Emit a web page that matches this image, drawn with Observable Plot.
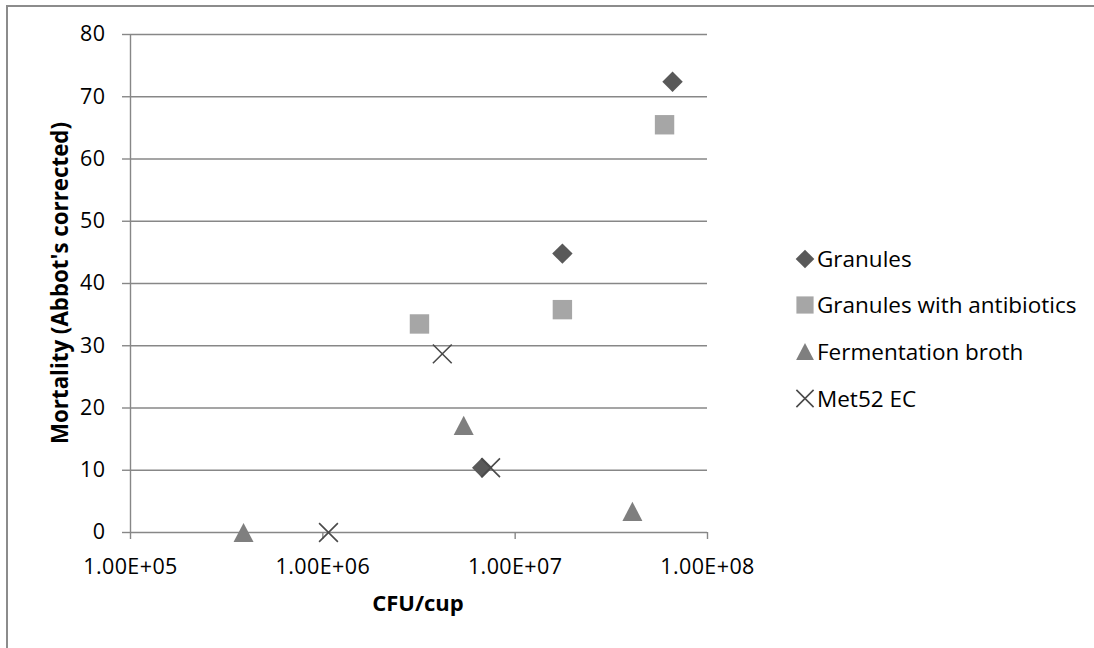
<!DOCTYPE html>
<html>
<head>
<meta charset="utf-8">
<script src="https://cdn.jsdelivr.net/npm/d3@7"></script>
<script src="https://cdn.jsdelivr.net/npm/@observablehq/plot@0.6"></script>
<style>
  body { margin: 0; background: #fff; }
  #wrap { position: relative; width: 1094px; height: 648px; overflow: hidden; background: #fff; }
  #chart { position: absolute; left: 0; top: 0; }
  #frame { position: absolute; left: 6px; top: 5px; width: 1200px; height: 800px;
           border-top: 2px solid #8c8c8c; border-left: 2px solid #8c8c8c; pointer-events: none; }
</style>
</head>
<body>
<div id="wrap"><div id="chart"></div><div id="frame"></div></div>
<script>
// ---- data ----
const seriesNames = ["Granules", "Granules with antibiotics", "Fermentation broth", "Met52 EC"];
const granulesX = [6.74e6, 1.76e7, 6.58e7];
const granulesY = [10.4, 44.8, 72.4];
const antibioticsX = [3.18e6, 1.76e7, 5.98e7];
const antibioticsY = [33.5, 35.8, 65.5];
const brothX = [3.87e5, 5.4e6, 4.07e7];
const brothY = [0, 17.2, 3.4];
const met52X = [1.07e6, 4.18e6, 7.45e6];
const met52Y = [0, 28.7, 10.4];
const xTicks = [1e5, 1e6, 1e7, 1e8];
const xTickLabels = ["1.00E+05", "1.00E+06", "1.00E+07", "1.00E+08"];
const yTicks = [0, 10, 20, 30, 40, 50, 60, 70, 80];
const xTitle = "CFU/cup";
const yTitle = "Mortality (Abbot's corrected)";

// ---- custom symbols: r = half extent ----
const rOf = size => Math.sqrt(size / Math.PI);
const diamondSym = { draw(c, size) { const r = rOf(size); c.moveTo(0, -r); c.lineTo(r, 0); c.lineTo(0, r); c.lineTo(-r, 0); c.closePath(); } };
const squareSym = { draw(c, size) { const r = rOf(size); c.moveTo(-r, -r); c.lineTo(r, -r); c.lineTo(r, r); c.lineTo(-r, r); c.closePath(); } };
const triangleSym = { draw(c, size) { const r = rOf(size); const h = 0.96 * r; c.moveTo(0, -h); c.lineTo(r, h); c.lineTo(-r, h); c.closePath(); } };
const timesSym = { draw(c, size) { const r = rOf(size); c.moveTo(-r, -r); c.lineTo(r, r); c.moveTo(-r, r); c.lineTo(r, -r); } };

const colDiamond = "#595959", colSquare = "#a6a6a6", colTriangle = "#7f7f7f", colTimes = "#4a4a4a";
const gridCol = "#878787";
const FONT = "'Open Sans', sans-serif";
const TICK_FS = 21.5;

const toRows = (xs, ys) => xs.map((x, i) => ({ x, y: ys[i] }));

const plot = Plot.plot({
  width: 1094,
  height: 648,
  marginLeft: 130,
  marginRight: 387,
  marginTop: 34,
  marginBottom: 116,
  style: { fontFamily: FONT, fontSize: TICK_FS + "px", color: "#000", background: "transparent", overflow: "visible" },
  x: { type: "log", domain: [1e5, 1e8], nice: false },
  y: { domain: [0, 80], nice: false },
  marks: [
    Plot.ruleY(yTicks, { stroke: gridCol, strokeWidth: 1.4 }),
    Plot.ruleX([1e5], { stroke: gridCol, strokeWidth: 1.4 }),
    Plot.axisY({ ticks: yTicks, tickSize: 8, tickPadding: 17, stroke: gridCol, strokeWidth: 1.4, fill: "#000", label: null, fontSize: TICK_FS }),
    Plot.axisX({ ticks: xTicks, tickSize: 7, tickPadding: 19, stroke: gridCol, strokeWidth: 1.4, fill: "#000", label: null, fontSize: TICK_FS,
                 tickFormat: d => xTickLabels[xTicks.indexOf(d)] }),
    Plot.dot(toRows(granulesX, granulesY), { x: "x", y: "y", symbol: diamondSym, r: 10.2, fill: colDiamond, stroke: "none" }),
    Plot.dot(toRows(antibioticsX, antibioticsY), { x: "x", y: "y", symbol: squareSym, r: 9.7, fill: colSquare, stroke: "none" }),
    Plot.dot(toRows(brothX, brothY), { x: "x", y: "y", symbol: triangleSym, r: 10, fill: colTriangle, stroke: "none" }),
    Plot.dot(toRows(met52X, met52Y), { x: "x", y: "y", symbol: timesSym, r: 9.4, fill: "none", stroke: colTimes, strokeWidth: 1.6 })
  ]
});
document.getElementById("chart").appendChild(plot);

const svg = d3.select(plot);
// tick labels (the only texts Plot produced)
svg.selectAll("text")
  .style("font-size", TICK_FS + "px")
  .style("font-family", FONT)
  .style("letter-spacing", "0.4px");

// ---- axis titles and legend added to the Plot SVG ----
svg.append("text")
  .attr("x", 418).attr("y", 611)
  .attr("text-anchor", "middle")
  .style("font-family", FONT)
  .style("font-weight", "bold").style("font-size", "22px").attr("fill", "#000")
  .text(xTitle);
svg.append("text")
  .attr("transform", "translate(68,283) rotate(-90)")
  .attr("text-anchor", "middle")
  .style("font-family", FONT)
  .style("font-weight", "bold").style("font-size", "22.3px").attr("fill", "#000")
  .text(yTitle);

const legendSyms = [
  { sym: diamondSym, r: 9.3, fill: colDiamond, stroke: "none" },
  { sym: squareSym, r: 8.6, fill: colSquare, stroke: "none" },
  { sym: triangleSym, r: 8.9, fill: colTriangle, stroke: "none" },
  { sym: timesSym, r: 8.6, fill: "none", stroke: colTimes }
];
const legendCY = [259, 305, 351.5, 398.5];
const lg = svg.append("g");
seriesNames.forEach((name, i) => {
  const s = legendSyms[i];
  const p = d3.path();
  s.sym.draw(p, Math.PI * s.r * s.r);
  lg.append("path")
    .attr("transform", `translate(805,${legendCY[i]})`)
    .attr("d", p.toString())
    .attr("fill", s.fill).attr("stroke", s.stroke).attr("stroke-width", 1.6);
  lg.append("text")
    .attr("x", 817).attr("y", legendCY[i] + 8)
    .attr("text-anchor", "start")
    .style("font-family", FONT)
    .style("font-size", "22.5px").attr("fill", "#000")
    .text(name);
});
</script>
</body>
</html>
